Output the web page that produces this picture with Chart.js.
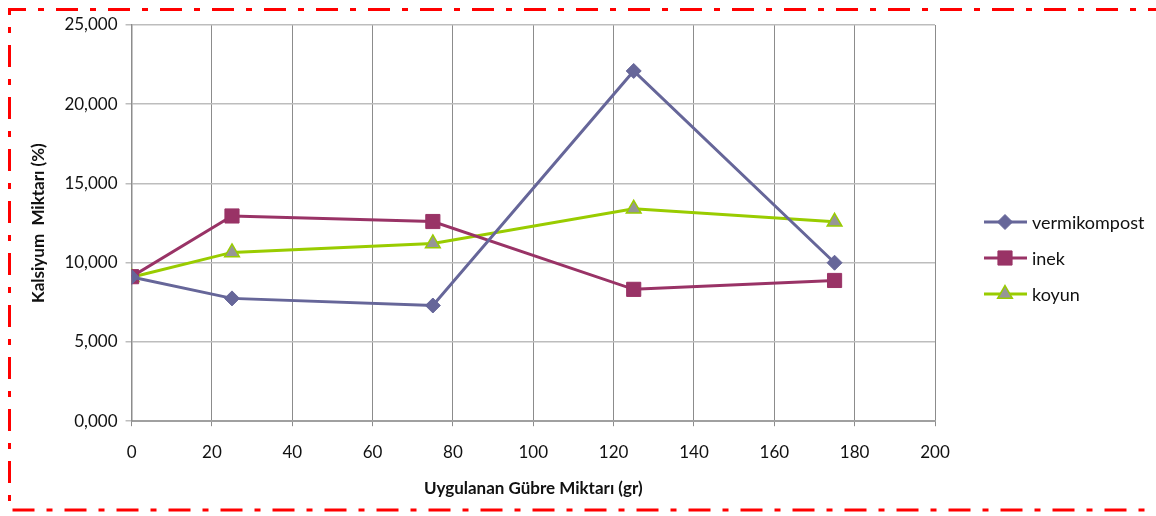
<!DOCTYPE html>
<html>
<head>
<meta charset="utf-8">
<script src="https://cdn.jsdelivr.net/npm/chart.js@4/dist/chart.umd.min.js"></script>
<style>
  html, body { margin: 0; padding: 0; background: #fff; }
  #wrap { width: 1156px; height: 516px; }
</style>
</head>
<body>
<div id="wrap"><canvas id="myChart" width="1156" height="516"></canvas></div>
<script>
// values
var doses = [0, 25, 75, 125, 175];
var vermikompost = [9.10, 7.75, 7.30, 22.10, 10.00];
var inek = [9.12, 12.95, 12.60, 8.32, 8.88];
var koyun = [9.08, 10.65, 11.22, 13.40, 12.58];
var seriesNames = ["vermikompost", "inek", "koyun"];
var xTitle = "Uygulanan Gübre Miktarı (gr)";
var yTitle = "Kalsiyum  Miktarı (%)";

var FONT = "Lato";

function points(vals) {
    return doses.map(function (d, i) { return { x: d, y: vals[i] }; });
}

// red dash-dot frame round the picture
var framePlugin = {
    id: 'frame',
    afterDraw: function (chart) {
        var ctx = chart.ctx;
        ctx.save();
        ctx.strokeStyle = '#ff0000';
        ctx.lineWidth = 3;
        ctx.setLineDash([22, 12, 6, 12]);
        ctx.beginPath();
        ctx.moveTo(1170, 9.5);
        ctx.lineTo(9.5, 9.5);
        ctx.lineTo(9.5, 510);
        ctx.lineTo(1170, 510);
        ctx.stroke();
        ctx.restore();
    }
};

// legend on the right, drawn like the office one
var legendPlugin = {
    id: 'sideLegend',
    afterDraw: function (chart) {
        var ctx = chart.ctx;
        var x0 = 984, y0 = 222, gap = 36;
        chart.data.datasets.forEach(function (ds, i) {
            var y = y0 + i * gap;
            ctx.save();
            ctx.strokeStyle = ds.borderColor;
            ctx.lineWidth = 3;
            ctx.beginPath();
            ctx.moveTo(x0, y);
            ctx.lineTo(x0 + 43, y);
            ctx.stroke();
            ctx.fillStyle = ds.pointBackgroundColor;
            ctx.strokeStyle = ds.pointBorderColor;
            ctx.lineWidth = ds.pointBorderWidth;
            Chart.helpers.drawPoint(ctx, {
                pointStyle: ds.pointStyle,
                radius: ds.pointRadius,
                borderWidth: ds.pointBorderWidth
            }, x0 + 21, y);
            ctx.fillStyle = '#111';
            ctx.font = '18px ' + FONT;
            ctx.textBaseline = 'middle';
            ctx.fillText(ds.label, x0 + 48, y + 1);
            ctx.restore();
        });
    }
};

var ctx = document.getElementById("myChart");
var chart = new Chart(ctx, {
    type: 'line',
    data: {
        datasets: [{
            label: seriesNames[0],
            data: points(vermikompost),
            borderColor: '#666699',
            borderWidth: 3,
            pointStyle: 'rectRot',
            pointRadius: 7.5,
            pointBackgroundColor: '#666699',
            pointBorderColor: '#666699',
            pointBorderWidth: 1
        }, {
            label: seriesNames[1],
            data: points(inek),
            borderColor: '#993366',
            borderWidth: 3,
            pointStyle: 'rect',
            pointRadius: 10,
            pointBackgroundColor: '#993366',
            pointBorderColor: '#993366',
            pointBorderWidth: 1
        }, {
            label: seriesNames[2],
            data: points(koyun),
            borderColor: '#99cc00',
            borderWidth: 3,
            pointStyle: 'triangle',
            pointRadius: 8.5,
            pointBackgroundColor: '#969696',
            pointBorderColor: '#99cc00',
            pointBorderWidth: 1.5
        }]
    },
    options: {
        responsive: false,
        animation: false,
        layout: { padding: { left: 24, right: 221, top: 25, bottom: 13 } },
        plugins: {
            legend: { display: false },
            tooltip: { enabled: false }
        },
        scales: {
            x: {
                type: 'linear',
                min: 0,
                max: 200,
                ticks: {
                    stepSize: 20,
                    color: '#111',
                    font: { family: FONT, size: 17 },
                    padding: 16
                },
                grid: { color: '#8c8c8c', lineWidth: 1, tickLength: 5 },
                border: { color: '#a0a0a0', width: 2 },
                title: {
                    display: true,
                    text: xTitle,
                    color: '#111',
                    font: { family: FONT, size: 17, weight: 'bold' },
                    padding: { top: 0 }
                }
            },
            y: {
                min: 0,
                max: 25,
                ticks: {
                    stepSize: 5,
                    color: '#111',
                    font: { family: FONT, size: 17 },
                    padding: 8,
                    callback: function (v) { return v.toFixed(3).replace('.', ','); }
                },
                grid: { color: '#bdbdbd', lineWidth: 1.5, tickLength: 6 },
                border: { color: '#8c8c8c', width: 1.5 },
                title: {
                    display: true,
                    text: yTitle,
                    color: '#111',
                    font: { family: FONT, size: 17, weight: 'bold' },
                    padding: { bottom: 8 }
                }
            }
        }
    },
    plugins: [framePlugin, legendPlugin]
});
</script>
</body>
</html>
